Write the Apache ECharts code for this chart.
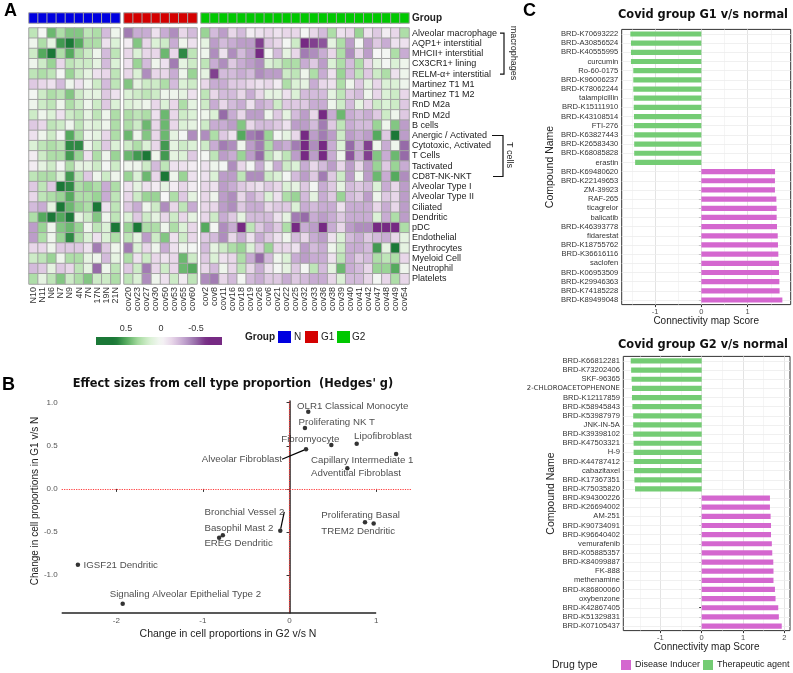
<!DOCTYPE html>
<html><head><meta charset="utf-8">
<script src="https://cdn.jsdelivr.net/npm/echarts@6/dist/echarts.min.js"></script>
<style>html,body{margin:0;padding:0;background:#fff}#c{width:793px;height:673px}</style>
</head><body><div id="c"></div>
<script>
// ---------------- DATA ----------------
const rowLabels = ['Alveolar macrophage','AQP1+ interstitial','MHCII+ interstitial','CX3CR1+ lining','RELM-\u03b1+ interstitial','Martinez T1 M1','Martinez T1 M2','RnD M2a','RnD M2d','B cells','Anergic / Activated','Cytotoxic, Activated','T Cells','Tactivated','CD8T-NK-NKT','Alveolar Type I','Alveolar Type II','Ciliated','Dendritic','pDC','Endothelial','Erythrocytes','Myeloid Cell','Neutrophil','Platelets'];
const colsN = ['N10','N11','N6','N7','N9','4N','7N','17N','19N','21N'];
const colsG1 = ['cov20','cov23','cov27','cov30','cov50','cov53','cov55','cov60'];
const colsG2 = ['cov2','cov8','cov11','cov16','cov18','cov19','cov26','cov6','cov21','cov22','cov25','cov32','cov33','cov36','cov38','cov39','cov40','cov41','cov42','cov47','cov48','cov49','cov54'];

const heatN = [
[0.25,0.02,0.45,0.3,0.4,0.4,0.25,0.3,-0.25,0.05],
[0.05,0.3,0.1,0.55,0.7,0.5,0.3,0.3,-0.1,0.15],
[0.2,0.5,0.7,0.3,0.5,0.3,0.2,0.05,-0.25,0.25],
[0.05,0.2,0.35,-0.15,0.25,0.2,0.2,0.1,-0.25,0.15],
[0.25,0.3,0.25,0.02,0.35,0.2,0.1,-0.1,-0.15,0.25],
[-0.2,-0.15,-0.1,-0.25,0.05,-0.1,0.05,0.2,-0.25,0.25],
[0.02,0.2,0.3,0.25,0.4,0.2,0.1,0.1,-0.2,-0.1],
[0.05,0.2,0.25,0.05,0.3,0.2,0.05,0.2,-0.2,0.15],
[0.2,0.05,0.15,-0.1,0.2,0.25,0.1,0.25,0.05,0.3],
[-0.2,-0.15,0.25,0.2,0.05,0.25,0.1,0.15,0.05,0.3],
[-0.1,0.05,0.2,0.02,0.5,0.3,0.05,0.1,-0.15,0.3],
[0.15,0.25,0.3,0.25,0.6,0.6,0.05,0.2,-0.2,0.15],
[-0.05,0.2,0.3,0.3,0.55,0.35,-0.1,0.3,0.05,0.35],
[-0.05,0.1,0.2,0.02,0.3,0.1,0.1,0.2,0.02,0.2],
[0.25,0.3,0.3,0.15,0.55,0.25,-0.2,0.05,0.2,0.05],
[-0.2,0.25,-0.2,0.7,0.6,0.3,0.35,0.3,-0.3,0.3],
[-0.15,0.25,0.3,0.35,0.5,0.3,0.3,0.35,-0.3,0.25],
[-0.25,-0.3,0.1,0.75,0.45,0.35,0.3,0.8,-0.1,0.25],
[0.3,0.5,0.75,0.5,0.65,0.1,0.2,0.4,0.05,0.25],
[-0.35,0.35,0.05,0.4,0.45,0.35,0.05,0.25,0.15,0.75],
[-0.35,0.3,0.05,0.35,0.6,0.3,0.15,-0.1,0.15,0.3],
[-0.15,-0.15,0.05,-0.2,-0.2,-0.2,-0.1,-0.45,-0.2,0.05],
[0.2,0.25,0.35,0.05,0.3,0.3,0.1,0.05,-0.25,0.1],
[-0.25,-0.2,0.1,-0.2,-0.15,0.25,0.1,-0.5,0.05,0.25],
[0.3,0.1,0.25,0.4,0.2,0.3,0.4,0.2,0.2,0.3]
];
const heatG1 = [
[-0.45,-0.3,-0.3,-0.1,-0.3,-0.4,-0.15,-0.25],
[-0.05,0.4,-0.15,0.15,0.2,-0.3,0.05,-0.1],
[-0.15,0.15,-0.15,-0.15,0.45,-0.15,0.6,0.25],
[-0.1,0.35,-0.25,0.05,-0.1,-0.45,0.1,0.2],
[-0.15,0.15,-0.4,-0.15,-0.15,-0.3,0.05,0.35],
[0.4,0.1,0.2,0.2,0.3,-0.25,0.15,0.2],
[0.15,0.2,0.25,0.2,0.05,0.05,0.1,-0.1],
[0.15,0.1,0.05,-0.15,0.15,-0.15,0.3,0.1],
[0.3,0.25,0.3,-0.1,0.45,-0.15,0.2,0.15],
[0.3,0.2,0.45,-0.15,0.45,-0.15,0.15,0.1],
[0.45,0.05,0.4,-0.15,0.45,0.1,0.02,-0.4],
[0.2,0.3,0.15,-0.15,0.55,0.1,0.2,0.15],
[0.45,0.55,0.75,0.05,0.55,0.1,0.15,-0.2],
[0.05,0.05,0.2,-0.25,0.25,-0.1,-0.1,-0.05],
[0.35,0.15,0.45,-0.15,0.75,0.05,0.35,-0.1],
[-0.1,0.1,-0.1,-0.05,0.1,-0.05,-0.15,-0.05],
[-0.15,0.2,0.35,0.35,0.0,0.3,-0.2,0.1],
[-0.2,-0.3,0.05,0.2,-0.4,-0.15,0.25,-0.3],
[0.15,-0.2,0.2,0.1,-0.15,0.2,-0.15,0.1],
[0.35,0.8,0.3,0.3,0.05,0.3,0.15,-0.15],
[0.25,0.1,-0.35,0.2,0.4,-0.1,0.2,-0.15],
[-0.45,0.15,-0.15,0.05,-0.3,-0.1,0.05,0.02],
[0.3,-0.1,0.2,-0.15,-0.1,-0.15,0.45,0.2],
[-0.2,0.2,-0.45,-0.15,0.2,-0.15,0.45,0.5],
[0.25,0.15,-0.4,0.05,-0.1,0.2,-0.05,0.25]
];
const heatG2 = [
[0.35,-0.25,-0.35,-0.15,-0.25,-0.05,-0.1,-0.15,-0.1,-0.15,-0.15,0.02,-0.15,-0.25,0.3,-0.1,-0.15,0.35,-0.1,-0.2,-0.05,-0.15,0.3],
[0.1,-0.35,-0.25,-0.3,-0.35,-0.35,-0.6,-0.2,-0.15,0.02,0.2,-0.7,-0.6,-0.55,0.1,0.3,-0.35,0.02,-0.35,-0.2,-0.3,-0.1,-0.1],
[0.05,-0.4,-0.1,-0.4,-0.25,-0.35,-0.7,0.02,-0.25,0.1,-0.15,-0.45,-0.4,-0.3,-0.15,0.3,-0.4,-0.15,-0.35,0.0,0.02,0.3,-0.3],
[0.25,-0.3,-0.4,-0.2,-0.3,-0.35,-0.4,0.15,0.2,0.3,0.3,-0.3,-0.2,-0.35,0.15,0.3,-0.25,0.3,-0.15,0.1,0.02,0.15,0.05],
[0.1,-0.6,-0.25,-0.25,-0.3,-0.25,-0.4,-0.35,-0.35,0.2,0.25,0.05,0.3,-0.3,-0.1,0.35,-0.25,0.25,-0.2,0.2,0.3,-0.1,0.05],
[-0.15,-0.3,-0.3,-0.2,-0.2,-0.15,-0.1,-0.15,-0.05,0.3,0.15,0.1,-0.3,-0.15,-0.1,0.3,0.05,-0.2,0.1,-0.15,0.15,0.15,0.05],
[0.25,-0.15,-0.25,-0.25,-0.15,-0.3,-0.15,0.1,0.1,-0.1,0.15,-0.25,-0.25,-0.25,0.1,0.25,-0.2,-0.25,0.05,-0.15,0.15,0.2,-0.15],
[0.2,-0.3,-0.15,-0.25,-0.3,-0.1,-0.3,-0.25,0.2,-0.2,-0.2,-0.2,-0.3,-0.3,0.05,0.2,-0.25,0.1,-0.15,0.2,0.15,0.2,-0.2],
[0.05,0.15,-0.5,-0.3,-0.15,-0.35,-0.35,0.05,-0.2,0.1,-0.25,-0.35,-0.15,-0.65,-0.3,0.45,-0.3,-0.25,-0.3,-0.2,0.2,0.05,-0.2],
[0.2,-0.3,-0.3,-0.35,0.4,-0.15,-0.25,-0.25,-0.2,-0.1,-0.35,-0.35,-0.25,-0.45,-0.2,0.25,-0.3,-0.25,-0.25,0.35,0.05,0.4,-0.35],
[-0.4,0.3,-0.2,-0.1,0.5,-0.45,-0.5,0.35,0.02,0.1,-0.15,-0.7,-0.35,-0.45,-0.35,0.2,-0.35,-0.3,-0.35,0.5,-0.2,0.7,-0.35],
[0.2,-0.3,-0.45,-0.4,0.05,-0.35,-0.45,0.3,-0.35,-0.3,-0.45,-0.65,-0.4,-0.65,-0.3,0.15,-0.5,-0.3,-0.6,0.05,-0.3,0.05,-0.5],
[0.02,0.25,-0.35,-0.3,0.35,-0.35,-0.5,0.25,0.1,0.25,-0.35,-0.7,-0.35,-0.7,-0.3,0.05,-0.55,-0.3,-0.6,0.4,-0.3,0.45,-0.5],
[-0.1,0.05,0.02,-0.4,-0.15,0.02,-0.3,0.05,-0.3,0.2,0.15,-0.3,-0.15,-0.25,-0.35,-0.15,-0.35,-0.15,-0.35,0.35,-0.2,0.35,-0.3],
[-0.1,0.15,-0.35,-0.35,0.25,-0.4,-0.4,0.2,0.15,0.02,-0.25,-0.35,-0.2,-0.45,-0.2,0.2,-0.35,0.05,-0.35,0.45,-0.3,0.5,-0.4],
[-0.15,-0.1,-0.35,-0.3,-0.2,-0.15,-0.1,-0.2,-0.15,0.15,0.1,-0.2,0.02,-0.3,-0.2,0.1,-0.25,-0.2,-0.25,0.15,-0.3,-0.15,-0.35],
[-0.15,0.05,-0.35,-0.4,-0.15,-0.3,-0.2,0.15,-0.1,0.3,0.35,-0.25,0.1,-0.3,-0.2,0.35,-0.25,-0.2,-0.35,0.05,-0.2,-0.15,-0.35],
[-0.15,-0.15,-0.35,-0.4,-0.2,-0.3,-0.3,-0.15,-0.2,-0.2,0.15,-0.3,-0.25,-0.3,-0.3,-0.1,-0.3,-0.3,-0.3,-0.15,-0.3,-0.15,-0.35],
[-0.15,0.2,-0.3,-0.2,0.1,-0.25,-0.25,-0.25,-0.1,0.1,-0.45,-0.5,-0.3,-0.35,-0.3,-0.2,-0.3,-0.3,-0.3,0.15,-0.3,0.3,-0.35],
[0.5,0.02,-0.4,-0.3,-0.75,0.25,-0.2,-0.3,-0.2,0.3,-0.8,-0.3,-0.35,-0.75,-0.3,-0.15,-0.35,-0.4,-0.4,-0.75,-0.8,-0.8,0.3],
[-0.2,-0.25,-0.4,-0.15,-0.3,-0.1,-0.3,-0.2,-0.1,0.05,-0.25,-0.15,-0.3,-0.35,-0.1,0.15,-0.25,-0.3,-0.2,-0.25,-0.3,-0.15,0.1],
[-0.25,0.1,0.2,0.3,0.35,0.15,-0.2,0.35,-0.15,-0.15,-0.1,-0.35,-0.25,-0.3,0.05,0.2,-0.3,-0.3,-0.25,0.55,0.1,0.7,0.1],
[-0.2,0.15,-0.1,-0.15,0.3,-0.3,-0.5,-0.25,0.05,0.15,-0.3,-0.35,-0.3,-0.3,-0.1,0.25,-0.3,-0.2,-0.25,0.3,0.25,0.3,-0.15],
[-0.15,-0.25,0.05,-0.15,0.25,-0.15,-0.3,-0.1,0.02,0.1,-0.2,0.02,0.25,-0.25,0.1,0.45,-0.3,-0.25,-0.15,0.35,0.35,0.5,0.05],
[-0.4,-0.45,-0.15,-0.25,0.02,-0.25,-0.3,-0.2,-0.2,-0.3,-0.2,-0.25,-0.3,-0.3,-0.15,0.15,-0.25,-0.25,-0.15,0.02,-0.15,0.3,-0.15]
];
const colorTicks = [0.5, 0, -0.5];

const effNames = ['OLR1 Classical Monocyte','Proliferating NK T','Fibromyocyte','Lipofibroblast','Alveolar Fibroblast','Capillary Intermediate 1','Adventitial Fibroblast','Bronchial Vessel 2','Basophil Mast 2','EREG Dendritic','Proliferating Basal','TREM2 Dendritic','IGSF21 Dendritic','Signaling Alveolar Epithelial Type 2'];
const effG2 = [0.216,0.178,0.482,0.775,0.19,1.23,0.667,-0.107,-0.77,-0.813,0.871,0.971,-2.443,-1.926];
const effG1 = [0.896,0.707,0.51,0.525,0.46,0.405,0.24,-0.487,-0.537,-0.568,-0.386,-0.402,-0.881,-1.333];
const effXTicks = [-2,-1,0,1];
const effYTicks = [-1,-0.5,0,0.5,1];

const g1Compounds = ['BRD-K70693222','BRD-A30856524','BRD-K40555995','curcumin','Ro-60-0175','BRD-K96006237','BRD-K78062244','talampicillin','BRD-K15111910','BRD-K43108514','FTI-276','BRD-K63827443','BRD-K26583430','BRD-K68085828','erastin','BRD-K69480620','BRD-K22149653','ZM-39923','RAF-265','ticagrelor','balicatib','BRD-K46393778','fidarestat','BRD-K18755762','BRD-K36616116','saclofen','BRD-K06953509','BRD-K29946363','BRD-K74185228','BRD-K89499048'];
const g1Scores = [-1.533,-1.52,-1.52,-1.52,-1.47,-1.47,-1.47,-1.46,-1.46,-1.455,-1.455,-1.45,-1.45,-1.45,-1.43,1.592,1.59,1.59,1.62,1.627,1.627,1.634,1.65,1.655,1.663,1.677,1.677,1.685,1.69,1.75];
const g2Compounds = ['BRD-K66812281','BRD-K73202406','SKF-96365','2-CHLOROACETOPHENONE','BRD-K12117859','BRD-K58945843','BRD-K53987979','JNK-IN-5A','BRD-K39398102','BRD-K47503321','H-9','BRD-K44787412','cabazitaxel','BRD-K17367351','BRD-K75035820','BRD-K94300226','BRD-K26694002','AM-251','BRD-K90734091','BRD-K96640402','vemurafenib','BRD-K05885357','BRD-K84099887','FK-888','methenamine','BRD-K86800060','oxybenzone','BRD-K42867405','BRD-K51329831','BRD-K07105437'];
const g2Scores = [-1.72,-1.71,-1.70,-1.69,-1.69,-1.68,-1.66,-1.66,-1.66,-1.65,-1.65,-1.645,-1.64,-1.63,-1.615,1.654,1.654,1.67,1.68,1.68,1.70,1.71,1.735,1.74,1.74,1.775,1.79,1.855,1.87,1.94];
const bar1Ticks = [-1,0,1];
const bar2Ticks = [-1,0,1,2];
const drugTypes = ['Disease Inducer','Therapeutic agent'];

// ---------------- STYLE ----------------
const FONT = '"Liberation Sans", Arial, sans-serif';
const TFONT = '"DejaVu Sans", Verdana, sans-serif';
const PRGN = ['#762a83','#9970ab','#c2a5cf','#e7d4e8','#f7f7f7','#d9f0d3','#a6dba0','#5aae61','#1b7837'];
const CMIN = -0.65, CMAX = 0.65;
const GROUPCOL = ['#0000e0','#d40000','#00c800'];
const PINK = '#d467cf', GREEN = '#74cc74';
const CELLB = '#a3a3a3';

const labelPos = {
 'OLR1 Classical Monocyte':[-11.3,-5.7,'left'],
 'Proliferating NK T':[-6.4,-5.7,'left'],
 'Fibromyocyte':[-50,-5.7,'left'],
 'Lipofibroblast':[-2.6,-7.7,'left'],
 'Alveolar Fibroblast':[-24,10,'right'],
 'Capillary Intermediate 1':[-85,6.3,'left'],
 'Adventitial Fibroblast':[-36.3,5.4,'left'],
 'Bronchial Vessel 2':[-75.7,-19,'left'],
 'Basophil Mast 2':[-18.4,-7,'left'],
 'EREG Dendritic':[-14.7,5.3,'left'],
 'Proliferating Basal':[-43.7,-6.6,'left'],
 'TREM2 Dendritic':[-52.3,7.6,'left'],
 'IGSF21 Dendritic':[5.7,0.7,'left'],
 'Signaling Alveolar Epithelial Type 2':[-13,-9,'left']
};
const withGuide = ['Alveolar Fibroblast','Bronchial Vessel 2'];

function heatData(m){ const d=[]; m.forEach((row,r)=>row.forEach((v,c)=>d.push([c,r,v]))); return d; }

const heatGrids = [{left:29,top:28,width:91,height:256},{left:124,top:28,width:73,height:256},{left:201,top:28,width:208,height:256}];
const groupGrids = heatGrids.map(g=>({left:g.left,top:13,width:g.width,height:10}));
const colSets = [colsN, colsG1, colsG2];
const heatSets = [heatN, heatG1, heatG2];

const grids = [...heatGrids, ...groupGrids,
  {left:61.7, top:401, width:350, height:212},
  {left:621.7, top:29.4, width:169, height:275.2, show:true, borderColor:'#333', borderWidth:1, backgroundColor:'#fff'},
  {left:623.3, top:356.4, width:166.7, height:274.2, show:true, borderColor:'#333', borderWidth:1, backgroundColor:'#fff'}
];

const xAxes = [], yAxes = [], series = [];
colSets.forEach((cols,i)=>{
  xAxes.push({type:'category', gridIndex:i, data:cols, position:'bottom', axisLine:{show:false}, axisTick:{show:false}, splitLine:{show:false},
    axisLabel:{rotate:90, fontSize:9, color:'#333', margin:3, interval:0, fontFamily:FONT}});
  yAxes.push({type:'category', gridIndex:i, data:rowLabels, inverse:true, position:'right', axisLine:{show:false}, axisTick:{show:false},
    axisLabel:{show:i===2, fontSize:9, color:'#222', margin:3, interval:0, fontFamily:FONT}});
});
colSets.forEach((cols,i)=>{
  xAxes.push({type:'category', gridIndex:3+i, data:cols, show:false});
  yAxes.push({type:'category', gridIndex:3+i, data:['Group'], position:'right', axisLine:{show:false}, axisTick:{show:false},
    axisLabel:{show:i===2, fontSize:10, fontWeight:'bold', color:'#222', margin:3, fontFamily:FONT}});
});
xAxes.push({type:'value', gridIndex:6, min:-2.63, max:1.41, axisLine:{show:false},
  axisTick:{show:true, length:3, customValues:effXTicks, lineStyle:{color:'#333'}},
  axisLabel:{customValues:effXTicks, fontSize:8, color:'#555', margin:4, fontFamily:FONT}, splitLine:{show:false}});
yAxes.push({type:'value', gridIndex:6, min:-1.44, max:1.02, axisLine:{show:true, lineStyle:{color:'#222', width:1.5}},
  axisTick:{show:true, length:3, customValues:effYTicks, lineStyle:{color:'#333'}},
  axisLabel:{customValues:effYTicks, formatter:v=>v.toFixed(1), fontSize:8, color:'#555', margin:4, fontFamily:FONT}, splitLine:{show:false}});
function barX(gi,min,max,ticks,gap){ return {type:'value', gridIndex:gi, min, max, axisLine:{show:false},
  axisTick:{show:true, length:2.5, customValues:ticks, lineStyle:{color:'#333'}},
  axisLabel:{customValues:ticks, fontSize:7.5, color:'#4d4d4d', margin:3, fontFamily:FONT}, splitLine:{show:false},
  name:'Connectivity map Score', nameLocation:'middle', nameGap:gap, nameMoveOverlap:false,
  nameTextStyle:{fontSize:10, color:'#222', fontFamily:FONT, verticalAlign:'top'}}; }
function barY(gi,cats,gap){ return {type:'category', gridIndex:gi, inverse:true,
  data:cats.map(c=> c.length>15 ? {value:c, textStyle:{fontSize:6.9, fontFamily:TFONT}} : c),
  axisLine:{show:false}, axisTick:{show:true, length:2.5, alignWithLabel:true, lineStyle:{color:'#333'}},
  axisLabel:{fontSize:7.6, color:'#333', margin:3.4, interval:0, fontFamily:FONT}, splitLine:{show:false},
  name:'Compound Name', nameLocation:'middle', nameGap:gap, nameMoveOverlap:false,
  nameTextStyle:{fontSize:10.5, color:'#222', fontFamily:FONT}}; }
xAxes.push(barX(7,-1.72,1.93,bar1Ticks,12));
yAxes.push(barY(7,g1Compounds,66));
xAxes.push(barX(8,-1.9,2.14,bar2Ticks,11.5));
yAxes.push(barY(8,g2Compounds,67));

heatSets.forEach((m,i)=>series.push({type:'heatmap', xAxisIndex:i, yAxisIndex:i, data:heatData(m),
  itemStyle:{borderColor:CELLB, borderWidth:1}, emphasis:{disabled:true}, silent:true}));
colSets.forEach((cols,i)=>series.push({type:'heatmap', xAxisIndex:3+i, yAxisIndex:3+i, data:cols.map((c,j)=>[j,0,i]),
  itemStyle:{borderColor:CELLB, borderWidth:1}, emphasis:{disabled:true}, silent:true}));
series.push({type:'scatter', xAxisIndex:6, yAxisIndex:6, symbolSize:4.5, itemStyle:{color:'#000'}, silent:true,
  data: effNames.map((n,i)=>({name:n, value:[effG2[i], effG1[i]], labelLine:{show: withGuide.includes(n)}})),
  label:{show:true, formatter:'{b}', fontSize:9.7, color:'#1a1a1a', fontFamily:FONT, position:'inside'},
  labelLine:{show:false, lineStyle:{color:'#000', width:1.2}},
  labelLayout: p => { const lp = labelPos[effNames[p.dataIndex]]; const cx = p.rect.x + p.rect.width/2, cy = p.rect.y + p.rect.height/2;
    return {x: cx + lp[0], y: cy + lp[1], align: lp[2], verticalAlign:'middle'}; },
  markLine:{silent:true, symbol:'none', label:{show:false}, z:1,
    data:[ {xAxis:0, lineStyle:{color:'#ff3b3b', type:'dotted', width:1.2}},
           {yAxis:0, lineStyle:{color:'#ff3b3b', type:'dotted', width:1.2}},
           [{coord:[-2.63,-1.44], lineStyle:{color:'#222', type:'solid', width:1.5}}, {coord:[1,-1.44]}] ]}});
function gridSeries(gi, cats, vmin, vmax){
  const lines = [];
  for (let v = Math.ceil(vmin*2)/2; v <= vmax; v += 0.5) {
    const major = Math.abs(v - Math.round(v)) < 1e-9;
    lines.push({xAxis:v, lineStyle:{color: major ? '#e3e3e3' : '#f1f1f1', width: major ? 1 : 0.7, type:'solid'}});
  }
  cats.forEach((c,i)=>lines.push({yAxis:i, lineStyle:{color:'#ececec', width:0.8, type:'solid'}}));
  return {type:'line', xAxisIndex:gi, yAxisIndex:gi, data:[], silent:true,
    markLine:{silent:true, symbol:'none', label:{show:false}, z:1, animation:false, data:lines}};
}
function barSeries(gi, scores, name, pos){ return {type:'bar', name, xAxisIndex:gi, yAxisIndex:gi, barWidth:5.2, barGap:'-100%', z:3,
  itemStyle:{color: pos ? PINK : GREEN}, data: scores.map(v => (pos ? v>0 : v<0) ? v : '-'), emphasis:{disabled:true}, silent:true}; }
series.push(gridSeries(7, g1Compounds, -1.72, 1.93));
series.push(barSeries(7, g1Scores, drugTypes[0], true));
series.push(barSeries(7, g1Scores, drugTypes[1], false));
series.push(gridSeries(8, g2Compounds, -1.9, 2.14));
series.push(barSeries(8, g2Scores, drugTypes[0], true));
series.push(barSeries(8, g2Scores, drugTypes[1], false));

// ---------------- GRAPHICS ----------------
const cb = {x:96, y:337, w:126, h:8, vLeft:0.93, vRight:-0.87};
const cbStops = [];
for (let k = 0; k <= 30; k++) {
  const v = cb.vLeft + (cb.vRight - cb.vLeft) * k / 30;
  const t = Math.min(1, Math.max(0, (v - CMIN) / (CMAX - CMIN)));
  cbStops.push({offset: k/30, color: echarts.color.lerp(t, PRGN)});
}
const cbX = v => cb.x + (cb.vLeft - v) / (cb.vLeft - cb.vRight) * cb.w;
function txt(text, x, y, opt){ return {type:'text', x, y, silent:true, style:Object.assign({text, fontSize:10, fontFamily:FONT, fill:'#222', align:'left', verticalAlign:'middle'}, opt||{})}; }
const rowC = i => heatGrids[2].top + (i+0.5)*heatGrids[2].height/rowLabels.length;
const graphics = [
  txt('A', 4, 11, {fontSize:18, fontWeight:'bold', fill:'#000'}),
  txt('B', 2, 385, {fontSize:18, fontWeight:'bold', fill:'#000'}),
  txt('C', 523, 11, {fontSize:18, fontWeight:'bold', fill:'#000'}),
  {type:'polyline', silent:true, shape:{points:[[500,rowC(0)],[504,rowC(0)],[504,rowC(4)],[500,rowC(4)]]}, style:{stroke:'#111', lineWidth:1.2, fill:null}},
  {type:'polyline', silent:true, shape:{points:[[492,rowC(10)],[503,rowC(10)],[503,rowC(14)],[493,rowC(14)]]}, style:{stroke:'#111', lineWidth:1.2, fill:null}},
  Object.assign(txt('macrophages', 513, 53, {fontSize:9, align:'center'}), {rotation:-Math.PI/2}),
  Object.assign(txt('T cells', 509, 155, {fontSize:9, align:'center'}), {rotation:-Math.PI/2}),
  {type:'rect', silent:true, shape:{x:cb.x, y:cb.y, width:cb.w, height:cb.h}, style:{fill:new echarts.graphic.LinearGradient(0,0,1,0,cbStops)}},
  ...colorTicks.map(v => txt(String(v), cbX(v), 329, {fontSize:9, align:'center', fill:'#333'})),
  txt('Group', 245, 337, {fontSize:10, fontWeight:'bold'}),
  {type:'rect', silent:true, shape:{x:278, y:331, width:13, height:12}, style:{fill:GROUPCOL[0]}},
  txt('N', 294, 337, {fontSize:10}),
  {type:'rect', silent:true, shape:{x:305, y:331, width:13, height:12}, style:{fill:GROUPCOL[1]}},
  txt('G1', 321, 337, {fontSize:10}),
  {type:'rect', silent:true, shape:{x:337, y:331, width:13, height:12}, style:{fill:GROUPCOL[2]}},
  txt('G2', 352, 337, {fontSize:10}),
  txt("Effect sizes from cell type proportion  (Hedges' g)", 233, 384, {fontSize:11.4, fontWeight:'bold', fontFamily:TFONT, fill:'#111', align:'center'}),
  txt('Change in cell proportions in G2 v/s N', 228, 634, {fontSize:10.5, align:'center'}),
  Object.assign(txt('Change in cell proportions in G1 v/s N', 35, 501, {fontSize:10, align:'center'}), {rotation:Math.PI/2}),
  txt('Covid group G1 v/s normal', 703, 15, {fontSize:11.4, fontWeight:'bold', fontFamily:TFONT, fill:'#111', align:'center'}),
  txt('Covid group G2 v/s normal', 703, 345, {fontSize:11.4, fontWeight:'bold', fontFamily:TFONT, fill:'#111', align:'center'}),
  txt('Drug type', 552, 665, {fontSize:10.5}),
  {type:'rect', silent:true, shape:{x:621, y:660, width:10, height:10}, style:{fill:PINK}},
  txt(drugTypes[0], 635, 665, {fontSize:9}),
  {type:'rect', silent:true, shape:{x:703, y:660, width:10, height:10}, style:{fill:GREEN}},
  txt(drugTypes[1], 717, 665, {fontSize:9})
];

const chart = echarts.init(document.getElementById('c'));
chart.setOption({
  animation:false,
  backgroundColor:'#fff',
  grid: grids,
  xAxis: xAxes,
  yAxis: yAxes,
  visualMap:[
    {type:'continuous', min:CMIN, max:CMAX, seriesIndex:[0,1,2], show:false, inRange:{color:PRGN}},
    {type:'piecewise', seriesIndex:[3,4,5], show:false, pieces:[{value:0,color:GROUPCOL[0]},{value:1,color:GROUPCOL[1]},{value:2,color:GROUPCOL[2]}]}
  ],
  series: series,
  graphic: graphics
});
</script>
</body></html>
